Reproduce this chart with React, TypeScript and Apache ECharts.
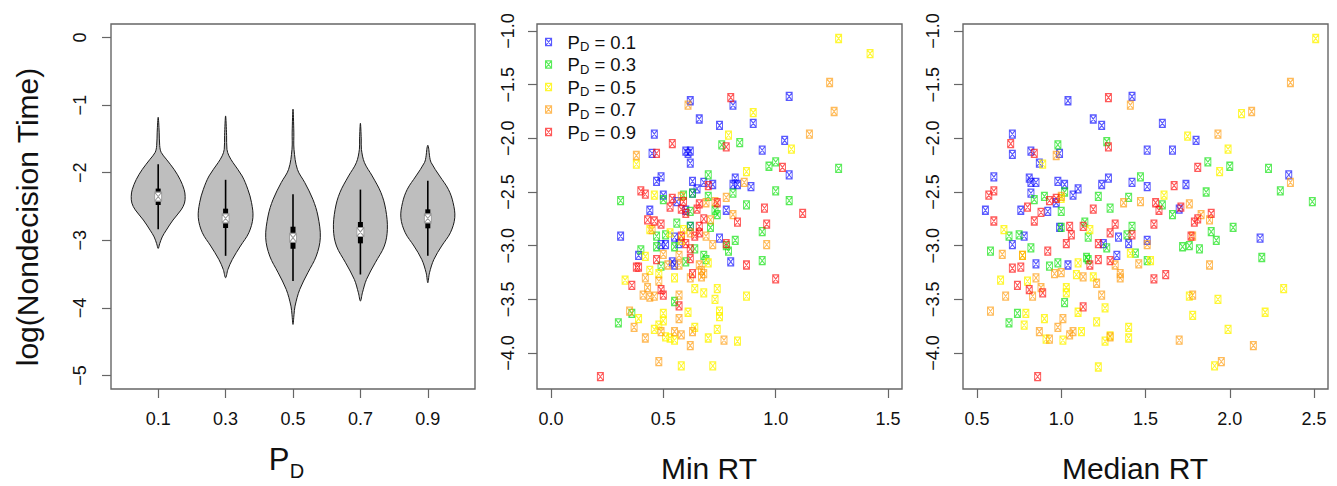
import React, { useEffect, useRef } from 'react';
import * as echarts from 'echarts';

// ---------- data ----------
const groupNames = ['P_D = 0.1', 'P_D = 0.3', 'P_D = 0.5', 'P_D = 0.7', 'P_D = 0.9'];
const violinCenters = [0.1, 0.3, 0.5, 0.7, 0.9];
const violinTicks = [0.1, 0.3, 0.5, 0.7, 0.9];
const leftYTicks = [0, -1, -2, -3, -4, -5];
const minRTTicks = [0, 0.5, 1.0, 1.5];
const medRTTicks = [0.5, 1.0, 1.5, 2.0, 2.5];
const scatterYTicks = [-1.0, -1.5, -2.0, -2.5, -3.0, -3.5, -4.0];

const medians = [-2.354, -2.676, -2.962, -2.877, -2.676];
const q1 = [-2.478, -2.818, -3.125, -3.045, -2.823];
const q3 = [-2.235, -2.532, -2.799, -2.729, -2.542];
const whiskerLo = [-2.835, -3.23, -3.604, -3.506, -3.23];
const whiskerHi = [-1.876, -2.105, -2.32, -2.25, -2.12];

// violin outline: [logT, half width in P_D units]
const violin01 = [[-1.18, 0], [-1.4, 0.003], [-1.6, 0.0045], [-1.7, 0.009], [-1.8, 0.024], [-1.95, 0.047], [-2.1, 0.065], [-2.25, 0.077], [-2.35, 0.08], [-2.45, 0.078], [-2.55, 0.068], [-2.7, 0.044], [-2.85, 0.024], [-2.95, 0.012], [-3.05, 0.0045], [-3.12, 0]];
const violin03 = [[-1.16, 0], [-1.45, 0.003], [-1.654, 0.004], [-1.75, 0.01], [-1.851, 0.022], [-2.048, 0.049], [-2.246, 0.066], [-2.443, 0.077], [-2.666, 0.081], [-2.888, 0.069], [-3.085, 0.044], [-3.283, 0.02], [-3.43, 0.007], [-3.554, 0]];
const violin05 = [[-1.06, 0], [-1.4, 0.0025], [-1.654, 0.003], [-1.95, 0.013], [-2.147, 0.035], [-2.394, 0.059], [-2.641, 0.074], [-2.962, 0.081], [-3.234, 0.069], [-3.48, 0.044], [-3.727, 0.02], [-3.974, 0.006], [-4.1, 0.003], [-4.245, 0]];
const violin07 = [[-1.268, 0], [-1.5, 0.0025], [-1.654, 0.003], [-1.851, 0.012], [-2.048, 0.035], [-2.295, 0.061], [-2.542, 0.075], [-2.838, 0.08], [-3.085, 0.071], [-3.332, 0.044], [-3.579, 0.018], [-3.776, 0.006], [-3.899, 0]];
const violin09 = [[-1.594, 0], [-1.654, 0.003], [-1.75, 0.005], [-1.851, 0.01], [-2.048, 0.035], [-2.246, 0.061], [-2.443, 0.075], [-2.666, 0.08], [-2.888, 0.067], [-3.085, 0.041], [-3.283, 0.018], [-3.48, 0.005], [-3.628, 0]];
const violinProfiles = [violin01, violin03, violin05, violin07, violin09];

// [Min RT, log(T)]
const minRT01 = [[0.62, -1.65], [0.81, -1.69], [1.06, -1.61], [0.66, -1.82], [0.75, -1.88], [0.90, -1.86], [0.46, -1.96], [1.04, -2.02], [0.60, -2.12], [0.62, -2.12], [0.61, -2.14], [0.45, -2.14], [0.62, -2.23], [0.94, -2.11], [1.06, -2.34], [0.49, -2.36], [0.47, -2.40], [0.63, -2.40], [0.68, -2.41], [0.72, -2.43], [0.65, -2.47], [0.82, -2.37], [0.81, -2.43], [0.83, -2.43], [0.89, -2.45], [0.50, -2.53], [0.63, -2.51], [0.56, -2.59], [0.44, -2.67], [0.78, -2.67], [0.60, -2.67], [0.31, -2.91], [0.55, -2.92], [0.75, -2.93], [0.49, -2.99], [0.51, -2.99], [0.57, -2.98], [0.39, -3.09], [0.54, -3.15], [0.55, -3.18], [0.80, -3.15], [0.62, -2.82]];
const minRT03 = [[0.76, -2.06], [0.84, -2.04], [1.00, -2.22], [0.97, -2.26], [1.28, -2.28], [0.70, -2.34], [0.63, -2.51], [0.59, -2.53], [0.70, -2.54], [0.81, -2.51], [1.00, -2.49], [1.06, -2.58], [0.31, -2.58], [0.50, -2.57], [0.87, -2.62], [0.73, -2.67], [0.62, -2.68], [0.74, -2.71], [0.56, -2.79], [0.62, -2.82], [0.71, -2.83], [0.47, -2.91], [0.51, -2.90], [0.94, -2.87], [0.82, -2.95], [0.47, -3.01], [0.40, -3.04], [0.55, -3.01], [0.64, -3.03], [0.78, -3.00], [0.79, -3.05], [0.68, -3.09], [0.69, -3.13], [0.94, -3.14], [0.49, -3.19], [0.60, -3.15], [0.55, -3.52], [0.36, -3.63], [0.30, -3.72]];
const minRT05 = [[1.28, -1.07], [1.42, -1.21], [0.90, -1.76], [0.79, -1.97], [1.07, -2.10], [0.38, -2.24], [0.87, -2.31], [0.46, -2.53], [0.44, -2.85], [0.59, -2.85], [0.53, -2.88], [0.58, -2.95], [0.42, -3.10], [0.44, -3.23], [0.33, -3.32], [0.55, -3.30], [0.48, -3.26], [0.64, -3.40], [0.68, -3.44], [0.74, -3.40], [0.70, -3.16], [0.73, -3.50], [0.87, -3.47], [0.50, -3.63], [0.61, -3.62], [0.75, -3.61], [0.75, -3.66], [0.39, -3.68], [0.50, -3.70], [0.48, -3.74], [0.64, -3.76], [0.74, -3.78], [0.46, -3.78], [0.51, -3.85], [0.53, -3.86], [0.55, -3.88], [0.70, -3.86], [0.83, -3.89], [0.58, -4.12], [0.72, -4.12]];
const minRT07 = [[1.24, -1.48], [1.26, -1.75], [0.61, -1.69], [1.15, -1.96], [0.38, -2.16], [0.86, -2.41], [0.78, -2.55], [0.58, -2.54], [0.69, -2.60], [0.73, -2.59], [0.81, -2.71], [0.71, -2.76], [0.45, -2.85], [0.69, -2.91], [0.72, -2.99], [0.96, -2.99], [0.50, -3.08], [0.57, -3.09], [0.62, -2.88], [0.66, -3.18], [0.67, -3.23], [0.67, -3.29], [0.68, -3.26], [0.57, -3.18], [0.52, -3.18], [0.62, -3.30], [0.42, -3.30], [0.43, -3.39], [0.48, -3.33], [0.41, -3.46], [0.44, -3.48], [0.46, -3.47], [0.57, -3.46], [0.35, -3.61], [0.57, -3.68], [0.37, -3.76], [0.49, -3.80], [0.55, -3.80], [0.58, -3.83], [0.63, -3.80], [0.42, -3.86], [0.77, -3.88], [0.62, -3.93], [0.48, -4.08]];
const minRT09 = [[0.80, -1.62], [0.54, -2.05], [0.47, -2.14], [0.78, -2.08], [1.03, -2.27], [0.40, -2.49], [0.42, -2.52], [0.70, -2.44], [0.54, -2.56], [0.53, -2.64], [0.59, -2.59], [0.58, -2.66], [0.60, -2.70], [0.74, -2.60], [0.66, -2.61], [0.65, -2.66], [0.95, -2.65], [1.12, -2.70], [0.43, -2.76], [0.46, -2.77], [0.49, -2.80], [0.68, -2.75], [0.83, -2.78], [0.96, -2.80], [0.66, -2.82], [0.66, -2.88], [0.58, -2.91], [0.64, -2.91], [0.60, -2.98], [0.62, -3.03], [0.78, -2.98], [0.62, -3.12], [0.47, -3.13], [0.38, -3.20], [0.39, -3.20], [0.63, -3.26], [0.87, -3.18], [1.00, -3.31], [0.36, -3.37], [0.49, -3.41], [0.50, -3.46], [0.57, -3.56], [0.22, -4.22]];

// [Median RT, log(T)]
const medRT01 = [[1.42, -1.61], [1.04, -1.65], [1.19, -1.82], [1.24, -1.88], [1.60, -1.86], [0.71, -1.96], [1.80, -2.02], [0.71, -2.15], [0.82, -2.12], [0.99, -2.14], [0.87, -2.23], [1.51, -2.11], [1.66, -2.11], [2.35, -2.34], [0.60, -2.36], [0.81, -2.37], [0.82, -2.41], [0.85, -2.41], [0.98, -2.40], [1.02, -2.43], [1.10, -2.47], [1.24, -2.43], [1.28, -2.37], [1.42, -2.41], [1.51, -2.45], [1.74, -2.43], [0.82, -2.51], [1.07, -2.53], [0.55, -2.67], [0.76, -2.67], [0.92, -2.68], [0.97, -2.60], [0.99, -2.83], [0.78, -2.91], [0.71, -2.99], [1.34, -2.92], [1.40, -2.98], [1.51, -2.95], [2.18, -2.93], [0.85, -3.17], [1.04, -3.18], [1.70, -2.66], [1.25, -2.98], [1.33, -3.09]];
const medRT03 = [[1.27, -2.03], [0.98, -2.06], [1.87, -2.22], [2.00, -2.26], [2.23, -2.28], [1.47, -2.36], [0.90, -2.54], [0.84, -2.57], [1.22, -2.54], [1.02, -2.50], [1.40, -2.55], [1.86, -2.50], [2.30, -2.49], [2.49, -2.59], [1.29, -2.65], [1.00, -2.68], [1.60, -2.62], [1.66, -2.71], [1.14, -2.78], [1.42, -2.82], [1.00, -2.83], [1.16, -2.92], [1.39, -2.90], [1.89, -2.87], [1.92, -2.95], [2.02, -2.83], [0.69, -2.91], [0.75, -2.90], [0.82, -3.02], [0.58, -3.05], [1.27, -3.02], [1.44, -3.07], [1.72, -3.01], [1.76, -3.00], [1.82, -3.03], [1.15, -3.11], [1.16, -3.13], [1.51, -3.14], [2.19, -3.11], [0.93, -3.19], [0.98, -3.16], [1.02, -3.53], [0.74, -3.63], [0.69, -3.72]];
const medRT05 = [[2.51, -1.07], [2.07, -1.77], [1.75, -1.98], [1.99, -2.10], [0.89, -2.24], [1.94, -2.31], [1.61, -2.53], [1.00, -2.56], [0.66, -2.85], [1.17, -2.85], [0.77, -3.09], [1.41, -3.07], [1.53, -3.14], [1.10, -3.16], [1.09, -3.27], [0.64, -3.32], [0.80, -3.33], [1.19, -3.29], [1.03, -3.39], [1.03, -3.44], [1.76, -3.47], [1.93, -3.50], [2.32, -3.40], [1.26, -3.58], [0.79, -3.63], [1.10, -3.62], [1.78, -3.65], [2.21, -3.62], [0.78, -3.74], [0.90, -3.68], [1.21, -3.71], [1.40, -3.76], [1.12, -3.80], [1.99, -3.78], [0.91, -3.87], [1.01, -3.88], [1.26, -3.89], [1.29, -3.84], [1.40, -3.86], [1.22, -4.13], [1.91, -4.12]];
const medRT07 = [[2.36, -1.48], [2.13, -1.75], [1.41, -1.69], [1.93, -1.96], [0.97, -2.16], [2.36, -2.41], [1.76, -2.61], [1.47, -2.59], [1.37, -2.60], [1.83, -2.71], [1.88, -2.76], [1.78, -2.91], [1.51, -2.99], [1.00, -2.54], [0.65, -3.08], [0.77, -3.09], [1.46, -3.17], [1.88, -3.18], [0.96, -3.26], [1.00, -3.25], [1.13, -3.29], [1.35, -3.26], [1.35, -3.30], [0.85, -3.30], [1.32, -3.18], [1.21, -3.35], [0.67, -3.47], [0.83, -3.47], [0.88, -3.39], [1.24, -3.46], [1.78, -3.46], [0.58, -3.61], [1.01, -3.68], [0.98, -3.76], [0.87, -3.80], [0.93, -3.87], [1.05, -3.83], [1.07, -3.80], [1.29, -3.85], [1.70, -3.88], [2.14, -3.93], [1.95, -4.08]];
const medRT09 = [[1.28, -1.62], [0.70, -2.05], [0.84, -2.14], [1.28, -2.08], [1.81, -2.27], [0.57, -2.53], [0.60, -2.49], [1.67, -2.44], [0.97, -2.56], [0.93, -2.58], [0.80, -2.64], [1.19, -2.66], [1.56, -2.60], [1.58, -2.67], [1.71, -2.64], [1.89, -2.70], [0.60, -2.77], [0.88, -2.69], [0.84, -2.77], [1.79, -2.78], [1.81, -2.75], [1.32, -2.80], [1.55, -2.80], [1.13, -2.82], [1.05, -2.82], [1.29, -2.88], [1.06, -2.90], [1.77, -2.91], [1.42, -2.90], [1.03, -2.98], [1.22, -2.98], [0.92, -3.05], [1.22, -3.13], [1.29, -3.14], [1.17, -3.18], [0.71, -3.21], [0.76, -3.20], [1.62, -3.27], [1.55, -3.31], [0.74, -3.37], [0.81, -3.41], [0.89, -3.44], [1.13, -3.57], [0.86, -4.22]];

const minRTGroups = [minRT01, minRT03, minRT05, minRT07, minRT09];
const medRTGroups = [medRT01, medRT03, medRT05, medRT07, medRT09];

// ---------- styles ----------
const FONT = '"Liberation Sans", Arial, Helvetica, sans-serif';
const groupColors = ['rgba(0,0,255,0.65)', 'rgba(0,225,0,0.65)', 'rgba(255,245,0,0.8)', 'rgba(255,150,0,0.65)', 'rgba(255,0,0,0.65)'];
const MARKER = 'path://M0,0H10V12H0Z M0,0L10,12 M10,0L0,12';
const BOX = '#666666';
const minus = (s: string) => s.replace('-', '\u2212');

function makeXAxis(gridIndex: number, min: number, max: number, ticks: number[]) {
  return {
    type: 'value', gridIndex, min, max, position: 'bottom',
    axisLine: { show: false, onZero: false },
    splitLine: { show: false },
    axisTick: { show: true, inside: false, length: 9, customValues: ticks, lineStyle: { color: BOX, width: 1.2 } },
    axisLabel: {
      customValues: ticks, margin: 21, fontSize: 18, fontFamily: FONT, color: '#111',
      formatter: (v: number) => minus(v.toFixed(1)),
    },
  };
}
function makeYAxis(gridIndex: number, min: number, max: number, ticks: number[], digits: number, margin: number) {
  return {
    type: 'value', gridIndex, min, max, position: 'left',
    axisLine: { show: false, onZero: false },
    splitLine: { show: false },
    axisTick: { show: true, inside: false, length: 9, customValues: ticks, lineStyle: { color: BOX, width: 1.2 } },
    axisLabel: {
      customValues: ticks, margin, rotate: 90, fontSize: 18, fontFamily: FONT, color: '#111',
      formatter: (v: number) => minus(v.toFixed(digits)),
    },
  };
}

export default function App() {
  const ref = useRef<HTMLDivElement>(null);
  useEffect(() => {
    if (!ref.current) return;
    const chart = echarts.init(ref.current, undefined, { renderer: 'svg' });
    const grids = [
      { left: 111, top: 24, width: 364, height: 365 },
      { left: 537, top: 24, width: 365, height: 365 },
      { left: 963, top: 24, width: 365, height: 365 },
    ].map((g) => ({ ...g, show: true, borderColor: BOX, borderWidth: 1.4, backgroundColor: 'transparent' }));

    const scatterSeries: any[] = [];
    [minRTGroups, medRTGroups].forEach((groups, k) => {
      groups.forEach((data, i) => {
        scatterSeries.push({
          type: 'scatter', name: groupNames[i], xAxisIndex: k + 1, yAxisIndex: k + 1,
          data, symbol: MARKER, symbolSize: [6, 8],
          itemStyle: { color: 'transparent', borderColor: groupColors[i], borderWidth: 1.1, opacity: 1 },
          emphasis: { disabled: true },
        });
      });
    });

    const titleStyle = { fontSize: 30, fontFamily: FONT, fill: '#111', align: 'center', verticalAlign: 'middle', textAlign: 'center', textVerticalAlign: 'middle' };

    const option: any = {
      animation: false,
      backgroundColor: '#ffffff',
      grid: grids,
      xAxis: [
        makeXAxis(0, -0.04, 1.04, violinTicks),
        makeXAxis(1, -0.062, 1.562, minRTTicks),
        makeXAxis(2, 0.417, 2.583, medRTTicks),
      ],
      yAxis: [
        makeYAxis(0, -5.2, 0.2, leftYTicks, 0, 22),
        makeYAxis(1, -4.335, -0.935, scatterYTicks, 1, 20),
        makeYAxis(2, -4.335, -0.935, scatterYTicks, 1, 21),
      ],
      legend: {
        orient: 'vertical', left: 545, top: 31, padding: 0, itemGap: 0.5,
        itemWidth: 6, itemHeight: 8, selectedMode: false,
        data: groupNames.map((n, i) => ({
          name: n, icon: MARKER,
          itemStyle: { color: 'transparent', borderColor: groupColors[i], borderWidth: 1.1 },
        })),
        formatter: (name: string) => `{a|P}{d|D}{p| = ${name.split('= ')[1]}}`,
        textStyle: {
          fontFamily: FONT, color: '#111',
          rich: {
            a: { fontSize: 18.5, lineHeight: 22, padding: [0, 0, 0, 11], fontFamily: FONT, color: '#111' },
            d: { fontSize: 13, lineHeight: 13, padding: [9, 0, 0, 0], fontFamily: FONT, color: '#111' },
            p: { fontSize: 18.5, lineHeight: 22, fontFamily: FONT, color: '#111' },
          },
        },
      },
      graphic: [
        { type: 'text', x: 27, y: 217, rotation: Math.PI / 2, style: { ...titleStyle, text: 'log(Nondecision Time)' } },
        { type: 'text', x: 279, y: 459, style: { ...titleStyle, text: 'P', fontSize: 31 } },
        { type: 'text', x: 297, y: 471, style: { ...titleStyle, text: 'D', fontSize: 20 } },
        { type: 'text', x: 709, y: 468, style: { ...titleStyle, text: 'Min RT' } },
        { type: 'text', x: 1135, y: 468, style: { ...titleStyle, text: 'Median RT' } },
      ],
      series: [
        {
          type: 'custom', xAxisIndex: 0, yAxisIndex: 0, silent: true,
          data: violinCenters.map((c, i) => [c, medians[i]]),
          encode: { x: 0, y: 1 },
          renderItem: (params: any, api: any) => {
            const i = params.dataIndex;
            const c = violinCenters[i];
            const prof = violinProfiles[i];
            const right = prof.map(([y, w]) => api.coord([c + w, y]));
            const left = prof.slice(1, -1).reverse().map(([y, w]) => api.coord([c - w, y]));
            const pts = right.concat(left);
            const top = api.coord([c, whiskerHi[i]]);
            const bot = api.coord([c, whiskerLo[i]]);
            const b3 = api.coord([c, q3[i]]);
            const b1 = api.coord([c, q1[i]]);
            return {
              type: 'group',
              children: [
                { type: 'polygon', shape: { points: pts, smooth: 0.35 }, style: { fill: '#bebebe', stroke: '#1a1a1a', lineWidth: 1 } },
                { type: 'line', shape: { x1: top[0], y1: top[1], x2: bot[0], y2: bot[1] }, style: { stroke: '#000', lineWidth: 1.6 } },
                { type: 'rect', shape: { x: b3[0] - 2.5, y: b3[1], width: 5, height: b1[1] - b3[1] }, style: { fill: '#000' } },
              ],
            };
          },
        },
        {
          type: 'scatter', xAxisIndex: 0, yAxisIndex: 0, silent: true,
          data: violinCenters.map((c, i) => [c, medians[i]]),
          symbol: MARKER, symbolSize: [7, 9],
          itemStyle: { color: '#ffffff', borderColor: '#9a9a9a', borderWidth: 1, opacity: 1 },
          z: 5,
        },
        ...scatterSeries,
      ],
    };
    chart.setOption(option);
    return () => chart.dispose();
  }, []);
  return <div ref={ref} style={{ position: 'fixed', left: 0, top: 0, width: 1337, height: 486, background: '#fff' }} />;
}
